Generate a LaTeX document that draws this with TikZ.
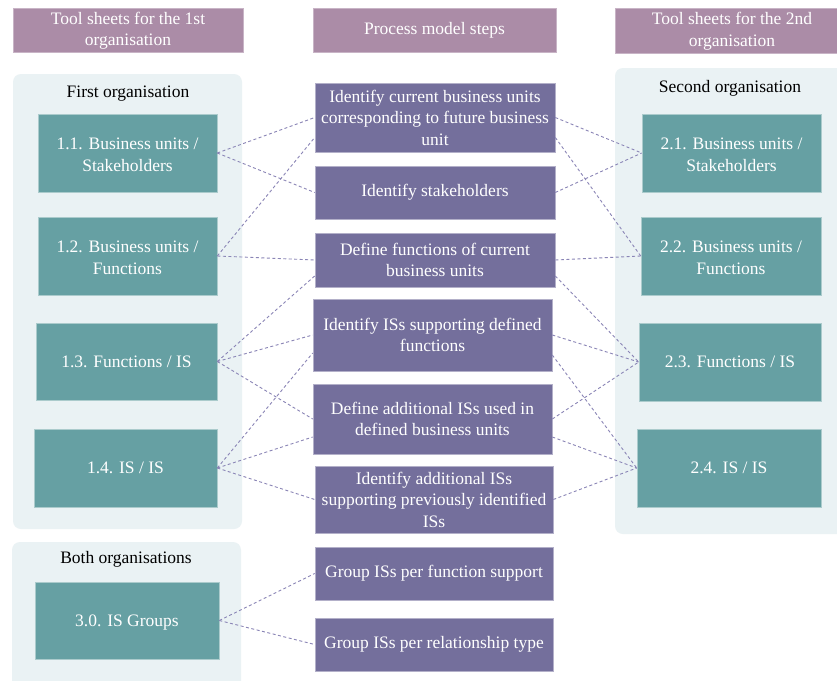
\documentclass[tikz,border=0pt]{standalone}
\usepackage{fontspec}
\setmainfont{Liberation Serif}
\newfontfamily\timesfont{Liberation Serif}
\definecolor{hdrfill}{HTML}{AB8CA7}
\definecolor{stepfill}{HTML}{746F9C}
\definecolor{sheetfill}{HTML}{66A0A3}
\definecolor{panelfill}{HTML}{EAF2F4}
\definecolor{linkcol}{HTML}{8A85B6}
\tikzset{
  hdrbox/.style={fill=hdrfill, draw=hdrfill!65!white, line width=0.6pt, text=white, align=center, inner sep=0pt},
  stepbox/.style={fill=stepfill, draw=stepfill!55!white, line width=0.6pt, text=white, align=center, inner sep=0pt},
  sheetbox/.style={fill=sheetfill, draw=sheetfill!55!white, line width=0.6pt, text=white, align=center, inner sep=0pt},
  panelbox/.style={fill=panelfill, rounded corners=8pt, inner sep=0pt},
  panellabel/.style={text=black, inner sep=0pt},
  link/.style={draw=linkcol, dash pattern=on 3pt off 2.5pt, line width=0.9pt},
}
\begin{document}
\begin{tikzpicture}[x=1pt, y=-1pt, font=\timesfont\fontsize{17.5}{21.5}\selectfont]
\clip (0,0) rectangle (837,680);
\fill[white] (0,0) rectangle (837,680);

% column headers
\node[hdrbox, minimum width=230pt, minimum height=44pt] (h1) at (128,30.5) {Tool sheets for the 1st\\organisation};
\node[hdrbox, minimum width=243pt, minimum height=44pt] (h2) at (434.5,30) {Process model steps};
\node[hdrbox, minimum width=234pt, minimum height=45pt] (h3) at (732,31) {Tool sheets for the 2nd\\organisation};

% organisation panels
\node[panelbox, minimum width=229pt, minimum height=455pt] (p1) at (127.5,301.5) {};
\node[panelbox, minimum width=237pt, minimum height=466pt] (p2) at (733.5,301) {};
\node[panelbox, minimum width=229pt, minimum height=158pt] (p3) at (126.5,621) {};
\node[panellabel] (l1) at (128,93.5) {First organisation};
\node[panellabel] (l2) at (730,88.5) {Second organisation};
\node[panellabel] (l3) at (126,559.5) {Both organisations};

% tool sheets, first organisation
\node[sheetbox, minimum width=179pt, minimum height=78pt] (t11) at (127.5,153) {\rule{0pt}{15pt}1.1. Business units /\\Stakeholders};
\node[sheetbox, minimum width=179pt, minimum height=78pt] (t12) at (127.5,256) {\rule{0pt}{15pt}1.2. Business units /\\Functions};
\node[sheetbox, minimum width=181pt, minimum height=77pt] (t13) at (126.5,361.5) {1.3. Functions / IS};
\node[sheetbox, minimum width=183pt, minimum height=78pt] (t14) at (125.5,468) {1.4. IS / IS};
\node[sheetbox, minimum width=184pt, minimum height=77pt] (t30) at (127,620.5) {\rule{0pt}{15pt}3.0. IS Groups};

% tool sheets, second organisation
\node[sheetbox, minimum width=179pt, minimum height=78pt] (t21) at (731.5,153) {\rule{0pt}{15pt}2.1. Business units /\\Stakeholders};
\node[sheetbox, minimum width=180pt, minimum height=78pt] (t22) at (731,256) {\rule{0pt}{15pt}2.2. Business units /\\Functions};
\node[sheetbox, minimum width=182pt, minimum height=78pt] (t23) at (730,362) {2.3. Functions / IS};
\node[sheetbox, minimum width=184pt, minimum height=78pt] (t24) at (729,468) {2.4. IS / IS};

% process model steps
\node[stepbox, minimum width=240pt, minimum height=69pt] (m1) at (435,117.5) {Identify current business units\\corresponding to future business\\unit};
\node[stepbox, minimum width=240pt, minimum height=53pt] (m2) at (435,192.5) {Identify stakeholders};
\node[stepbox, minimum width=240pt, minimum height=54pt] (m3) at (435,260) {Define functions of current\\business units};
\node[stepbox, minimum width=239pt, minimum height=72pt] (m4) at (432.5,335) {Identify ISs supporting defined\\functions};
\node[stepbox, minimum width=239pt, minimum height=70pt] (m5) at (432.5,419) {Define additional ISs used in\\defined business units};
\node[stepbox, minimum width=238pt, minimum height=67pt] (m6) at (434,499.5) {Identify additional ISs\\supporting previously identified\\ISs};
\node[stepbox, minimum width=238pt, minimum height=53pt] (m7) at (434,573.5) {Group ISs per function support};
\node[stepbox, minimum width=238pt, minimum height=53pt] (m8) at (434,644.5) {Group ISs per relationship type};

% links: first organisation to steps
\draw[link] (t11.east) -- (m1.west);
\draw[link] (t11.east) -- (m2.west);
\draw[link] (t12.east) -- ([yshift=-20pt]m1.west);
\draw[link] (t12.east) -- (m3.west);
\draw[link] (t13.east) -- ([yshift=-16pt]m3.west);
\draw[link] (t13.east) -- (m4.west);
\draw[link] (t13.east) -- (m5.west);
\draw[link] (t14.east) -- ([yshift=-18pt]m4.west);
\draw[link] (t14.east) -- ([yshift=-18pt]m5.west);
\draw[link] (t14.east) -- (m6.west);
\draw[link] (t30.east) -- (m7.west);
\draw[link] (t30.east) -- (m8.west);

% links: steps to second organisation
\draw[link] (m1.east) -- (t21.west);
\draw[link] (m2.east) -- (t21.west);
\draw[link] ([yshift=-20pt]m1.east) -- (t22.west);
\draw[link] (m3.east) -- (t22.west);
\draw[link] ([yshift=-16pt]m3.east) -- (t23.west);
\draw[link] (m4.east) -- (t23.west);
\draw[link] (m5.east) -- (t23.west);
\draw[link] ([yshift=-20pt]m4.east) -- (t24.west);
\draw[link] ([yshift=-18pt]m5.east) -- (t24.west);
\draw[link] (m6.east) -- (t24.west);
\end{tikzpicture}
\end{document}
